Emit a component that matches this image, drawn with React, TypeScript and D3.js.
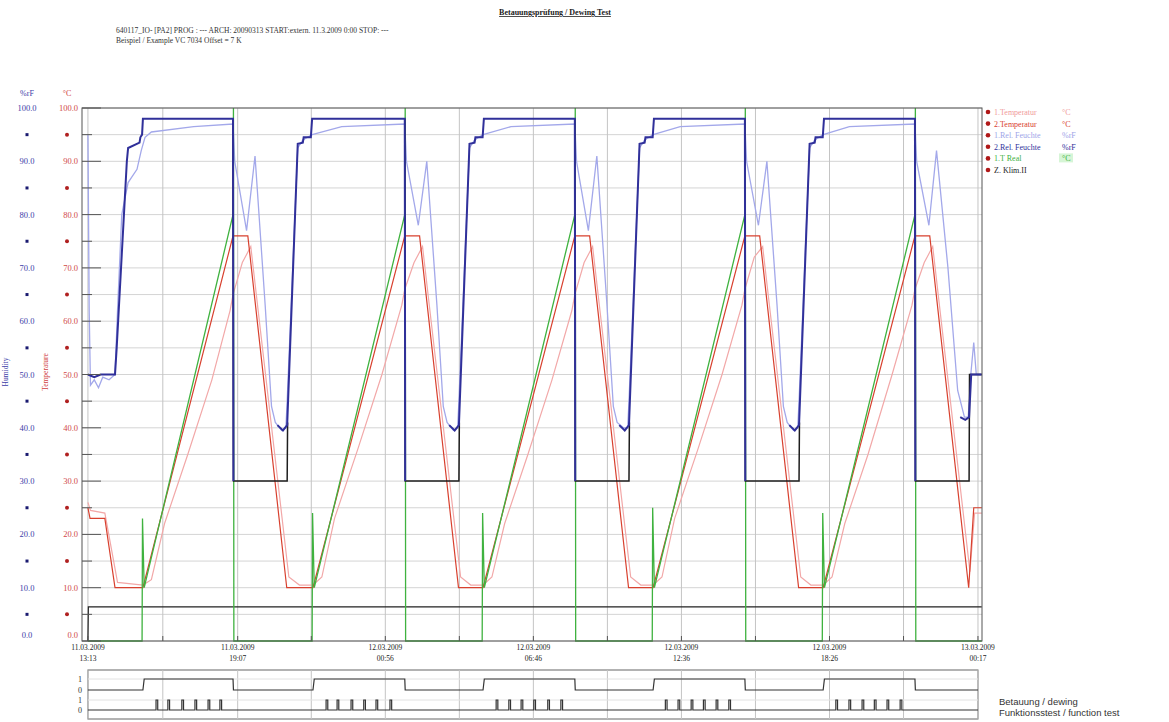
import React from "react";
import * as d3 from "d3";

type P = [number, number | null];

// time axis: minutes after 11.03.2009 13:13
const xTickMinutes = [0, 354, 703, 1053, 1403, 1753, 2104];
const xTickDates = ["11.03.2009", "11.03.2009", "12.03.2009", "12.03.2009", "12.03.2009", "12.03.2009", "13.03.2009"];
const xTickTimes = ["13:13", "19:07", "00:56", "06:46", "12:36", "18:26", "00:17"];
const xGridMinutes = [177, 528, 878, 1228, 1578, 1928];
const yMajor = [0, 10, 20, 30, 40, 50, 60, 70, 80, 90, 100];
const yMinor = [5, 15, 25, 35, 45, 55, 65, 75, 85, 95];

// 2.Temperatur (red)
const temp2: P[] = [
  [0, 25], [5, 23], [40, 23], [64, 10], [130, 10], [343, 76], [378, 76], [470, 10],
  [532, 10], [749, 76], [784, 76], [876, 10],
  [934, 10], [1151, 76], [1186, 76], [1278, 10],
  [1336, 10], [1553, 76], [1588, 76], [1680, 10],
  [1738, 10], [1955, 76], [1990, 76], [2082, 10], [2094, 25], [2113, 25],
];

// 1.Temperatur (pink)
const temp1: P[] = [
  [0, 26], [6, 24.5], [40, 24], [70, 11], [130, 10.5], [150, 11.5], [181, 22], [236, 35], [293, 49], [336, 62], [343, 65], [365, 71], [385, 74], [475, 12], [500, 10.5],
  [532, 10.5], [553, 12], [583, 23], [638, 36], [695, 50], [742, 63], [749, 66], [771, 71], [791, 74], [881, 12], [905, 10.5],
  [934, 10.5], [955, 12], [985, 22], [1040, 35], [1097, 49], [1144, 62], [1151, 65], [1173, 71], [1193, 74], [1283, 12], [1307, 10.5],
  [1336, 10.5], [1357, 12], [1387, 23], [1442, 36], [1499, 50], [1546, 63], [1553, 66], [1575, 72], [1595, 74], [1685, 12], [1709, 10.5],
  [1738, 10.5], [1759, 12], [1789, 22], [1844, 35], [1901, 50], [1948, 63], [1955, 66], [1977, 71], [1997, 74], [2085, 13], [2096, 24], [2113, 24],
];

// 1.T Real (green)
const tReal: P[] = [
  [0, 0], [128, 0], [129, 23], [133, 10], [343, 80], [344, 100], [345, 0],
  [530, 0], [531, 24], [535, 10], [749, 80], [750, 100], [751, 0],
  [932, 0], [933, 24], [937, 10], [1151, 80], [1152, 100], [1153, 0],
  [1334, 0], [1335, 25], [1339, 10], [1553, 80], [1554, 100], [1555, 0],
  [1736, 0], [1737, 24], [1741, 10], [1955, 80], [1956, 100], [1957, 0], [2113, 0],
];

// 1.Rel. Feuchte (light blue)
const hum1: P[] = [
  [0, 95], [3, 62], [6, 48], [15, 49], [25, 47.5], [35, 49.5], [50, 49], [64, 50], [70, 62], [80, 80], [95, 86], [116, 88.5], [126, 92], [135, 94.5], [150, 95.5], [250, 96.5], [343, 97],
  [347, 90], [375, 77], [395, 91], [419, 63], [434, 44], [443, 41], [458, 39.5], [468, 40], [471, 45], [496, 92.5], [508, 94], [530, 95], [600, 96.5], [749, 97],
  [753, 90], [781, 78], [801, 90], [825, 63], [840, 44], [849, 41], [864, 39.5], [874, 40], [877, 45], [902, 92.5], [914, 94], [934, 95], [1000, 96.5], [1151, 97],
  [1155, 90], [1183, 77], [1203, 91], [1227, 63], [1242, 44], [1251, 41], [1266, 40], [1276, 40], [1279, 45], [1304, 92.5], [1316, 94], [1336, 95], [1400, 96.5], [1553, 97],
  [1557, 90], [1585, 78], [1605, 90], [1629, 63], [1644, 44], [1653, 41], [1668, 39.5], [1678, 40], [1681, 45], [1706, 92.5], [1718, 94], [1738, 95], [1800, 96.5], [1955, 97],
  [1959, 90], [1988, 78], [2006, 92], [2033, 70], [2056, 47], [2072, 42], [2081, 42], [2087, 50], [2094, 56], [2100, 50], [2113, 50],
];

// 2.Rel. Feuchte (navy)
const hum2: P[] = [
  [0, 50], [15, 49.5], [30, 50], [64, 50], [68, 55], [92, 90], [95, 92.5], [122, 93.5], [124, 94.5], [128, 95], [130, 98], [343, 98], [344, 30], [345, null],
  [448, 40.5], [461, 39.5], [471, 40.5], [496, 93.3], [508, 93.5], [510, 94.5], [527, 94.5], [530, 98], [749, 98], [750, 30], [751, null],
  [854, 40.5], [867, 39.5], [877, 40.5], [902, 93.3], [914, 93.5], [916, 94.5], [933, 94.5], [936, 98], [1151, 98], [1152, 30], [1153, null],
  [1256, 40.5], [1269, 39.5], [1279, 40.5], [1304, 93.3], [1316, 93.5], [1318, 94.5], [1335, 94.5], [1338, 98], [1553, 98], [1554, 30], [1555, null],
  [1658, 40.5], [1671, 39.5], [1681, 40.5], [1706, 93.3], [1718, 93.5], [1720, 94.5], [1737, 94.5], [1740, 98], [1955, 98], [1956, 30], [1957, null],
  [2062, 42], [2074, 41.5], [2083, 42], [2088, 50], [2113, 50],
];

// setpoint (black)
const setpoint: P[] = [
  [343, 98], [344, 30], [471, 30], [472, 41], [473, null],
  [749, 98], [750, 30], [877, 30], [878, 41], [879, null],
  [1151, 98], [1152, 30], [1279, 30], [1280, 41], [1281, null],
  [1553, 98], [1554, 30], [1681, 30], [1682, 41], [1683, null],
  [1955, 98], [1956, 30], [2083, 30], [2084, 50], [2113, 50],
];

// Z. Klim.II (black bottom)
const klim: P[] = [[0, 0], [1, 6.4], [2113, 6.4]];

// digital tracks
const dewOn = [130, 532, 934, 1336, 1738];
const dewOff = [343, 749, 1151, 1553, 1955];
const testPulses = [
  161, 189, 222, 253, 284, 312,
  563, 589, 622, 652, 681, 714,
  965, 995, 1024, 1054, 1087, 1118,
  1365, 1395, 1426, 1455, 1485, 1515,
  1768, 1799, 1830, 1859, 1889, 1920,
];

const legendNames = ["1.Temperatur", "2.Temperatur", "1.Rel. Feuchte", "2.Rel. Feuchte", "1.T Real", "Z.   Klim.II"];
const legendUnits = ["°C", "°C", "%rF", "%rF", "°C", ""];
const legendColors = ["#f09a9a", "#d8402e", "#9ea4e8", "#30309a", "#3fb23f", "#222222"];

const SERIF = "'Liberation Serif', 'DejaVu Serif', serif";
const SANS = "'Liberation Sans', Arial, sans-serif";

export default function App() {
  const W = 1169, H = 722;
  const x = d3.scaleLinear().domain([-14, 2113.5]).range([82, 982]);
  const y = d3.scaleLinear().domain([0, 100]).range([641, 108]);
  const line = d3.line<P>()
    .defined((d) => d[1] !== null)
    .x((d) => x(d[0]))
    .y((d) => y(d[1] as number));

  const yD1 = d3.scaleLinear().domain([0, 1]).range([690, 679]);
  const yD2 = d3.scaleLinear().domain([0, 1]).range([710, 700]);

  const track1: [number, number][] = [[0, 0]];
  dewOn.forEach((t, i) => {
    track1.push([t, 0], [t + 3, 1], [dewOff[i], 1], [dewOff[i] + 1, 0]);
  });
  track1.push([2104, 0]);
  const dline = d3.line<[number, number]>().x((d) => x(d[0])).y((d) => yD1(d[1]));
  const dline2 = d3.line<[number, number]>().x((d) => x(d[0])).y((d) => yD2(d[1]));
  const track2: [number, number][] = [[0, 0]];
  testPulses.forEach((t) => {
    track2.push([t, 0], [t, 1], [t + 4, 1], [t + 4, 0]);
  });
  track2.push([2104, 0]);

  const allV = [...xTickMinutes, ...xGridMinutes];
  const grid5 = [...yMajor, ...yMinor];
  const x0 = x(0), x1 = x(2104);
  const labelY = (v: number) => (v === 0 ? y(v) - 3 : y(v) + 3);

  return (
    <svg width={W} height={H} style={{ position: "absolute", left: 0, top: 0, background: "#fff" }}>
      {/* title */}
      <text x={555} y={15} fontFamily={SERIF} fontSize={8} fontWeight="bold" textAnchor="middle" textDecoration="underline" fill="#222">
        Betauungsprüfung / Dewing Test
      </text>
      <text x={116} y={33} fontFamily={SERIF} fontSize={7.5} fill="#333">
        640117_IO- [PA2] PROG : --- ARCH: 20090313 START:extern. 11.3.2009  0:00 STOP: ---
      </text>
      <text x={116} y={43} fontFamily={SERIF} fontSize={7.5} fill="#333">
        Beispiel / Example VC 7034 Offset = 7 K
      </text>

      {/* grid */}
      {grid5.map((v) => (
        <line key={"hg" + v} x1={82} x2={982} y1={y(v)} y2={y(v)} stroke="#d4d4d4" strokeWidth={1} />
      ))}
      {allV.map((m) => (
        <line key={"vg" + m} x1={x(m)} x2={x(m)} y1={108} y2={641} stroke="#c4c4c4" strokeWidth={1} />
      ))}

      {/* series */}
      <path d={line(klim) || ""} fill="none" stroke="#222" strokeWidth={1.2} />
      <path d={line(temp1) || ""} fill="none" stroke="#f2a8a8" strokeWidth={1.2} />
      <path d={line(hum1) || ""} fill="none" stroke="#a3a8ea" strokeWidth={1.3} />
      <path d={line(temp2) || ""} fill="none" stroke="#d8402e" strokeWidth={1.2} />
      <path d={line(tReal) || ""} fill="none" stroke="#3fb23f" strokeWidth={1.3} />
      <path d={line(setpoint) || ""} fill="none" stroke="#1e1e1e" strokeWidth={1.5} />
      <path d={line(hum2) || ""} fill="none" stroke="#30309a" strokeWidth={2} />

      {/* plot frame */}
      <rect x={82} y={108} width={900} height={533} fill="none" stroke="#555" strokeWidth={1} />
      {yMajor.map((v) => (
        <line key={"tM" + v} x1={82} x2={101} y1={y(v)} y2={y(v)} stroke="#555" strokeWidth={1} />
      ))}
      {yMinor.map((v) => (
        <line key={"tm" + v} x1={82} x2={92} y1={y(v)} y2={y(v)} stroke="#555" strokeWidth={1} />
      ))}
      {allV.map((m) => (
        <line key={"xt" + m} x1={x(m)} x2={x(m)} y1={641} y2={636} stroke="#555" strokeWidth={1} />
      ))}

      {/* y labels */}
      <text x={27} y={96} fontFamily={SERIF} fontSize={8} textAnchor="middle" fill="#3c3ca8">%rF</text>
      <text x={67} y={96} fontFamily={SERIF} fontSize={8} textAnchor="middle" fill="#d04040">°C</text>
      {yMajor.map((v) => (
        <g key={"yl" + v}>
          <text x={27} y={labelY(v)} fontFamily={SERIF} fontSize={8.5} textAnchor="middle" fill="#3c3ca8">{v.toFixed(1)}</text>
          <text x={78} y={labelY(v)} fontFamily={SERIF} fontSize={8.5} textAnchor="end" fill="#d04848">{v.toFixed(1)}</text>
        </g>
      ))}
      {yMinor.map((v) => (
        <g key={"yd" + v}>
          <rect x={25.5} y={y(v) - 1.5} width={3} height={3} fill="#1a1a70" />
          <circle cx={67} cy={y(v)} r={2} fill="#b02020" />
        </g>
      ))}
      <text transform="translate(8,372) rotate(-90)" fontFamily={SERIF} fontSize={7.5} textAnchor="middle" fill="#3c3ca8">Humidity</text>
      <text transform="translate(48,372) rotate(-90)" fontFamily={SERIF} fontSize={7.5} textAnchor="middle" fill="#d04040">Temperature</text>

      {/* x labels */}
      {xTickMinutes.map((m, i) => (
        <g key={"xl" + m}>
          <text x={x(m)} y={650} fontFamily={SERIF} fontSize={7.5} textAnchor="middle" fill="#222">{xTickDates[i]}</text>
          <text x={x(m)} y={661} fontFamily={SERIF} fontSize={7.5} textAnchor="middle" fill="#222">{xTickTimes[i]}</text>
        </g>
      ))}

      {/* legend */}
      {legendNames.map((n, i) => (
        <g key={"lg" + i}>
          <circle cx={988} cy={112 + i * 11.6} r={2.3} fill="#b01818" />
          <text x={994} y={115 + i * 11.6} fontFamily={SERIF} fontSize={8} fill={legendColors[i]}>{n}</text>
          {i === 4 && <rect x={1059} y={107 + i * 11.6} width={14} height={9} fill="#d6f5d6" />}
          <text x={1062} y={115 + i * 11.6} fontFamily={SERIF} fontSize={8} fill={legendColors[i]}>{legendUnits[i]}</text>
        </g>
      ))}

      {/* digital panel */}
      <rect x={x0} y={670} width={x1 - x0} height={49} fill="none" stroke="#666" strokeWidth={1} />
      {allV.map((m) => (
        <line key={"dv" + m} x1={x(m)} x2={x(m)} y1={670} y2={719} stroke="#c4c4c4" strokeWidth={1} />
      ))}
      <line x1={x0} x2={x1} y1={yD1(1)} y2={yD1(1)} stroke="#e2e2e2" />
      <line x1={x0} x2={x1} y1={yD2(1)} y2={yD2(1)} stroke="#e2e2e2" />
      <path d={dline(track1) || ""} fill="none" stroke="#333" strokeWidth={1.2} />
      <path d={dline2(track2) || ""} fill="none" stroke="#333" strokeWidth={1.2} />
      <text x={82} y={yD1(1) + 3} fontFamily={SERIF} fontSize={8} textAnchor="end" fill="#333">1</text>
      <text x={82} y={yD1(0) + 3} fontFamily={SERIF} fontSize={8} textAnchor="end" fill="#333">0</text>
      <text x={82} y={yD2(1) + 3} fontFamily={SERIF} fontSize={8} textAnchor="end" fill="#333">1</text>
      <text x={82} y={yD2(0) + 3} fontFamily={SERIF} fontSize={8} textAnchor="end" fill="#333">0</text>
      <text x={999} y={705} fontFamily={SANS} fontSize={9.5} fill="#333">Betauung / dewing</text>
      <text x={999} y={716} fontFamily={SANS} fontSize={9.5} fill="#333">Funktionsstest / function test</text>
    </svg>
  );
}
